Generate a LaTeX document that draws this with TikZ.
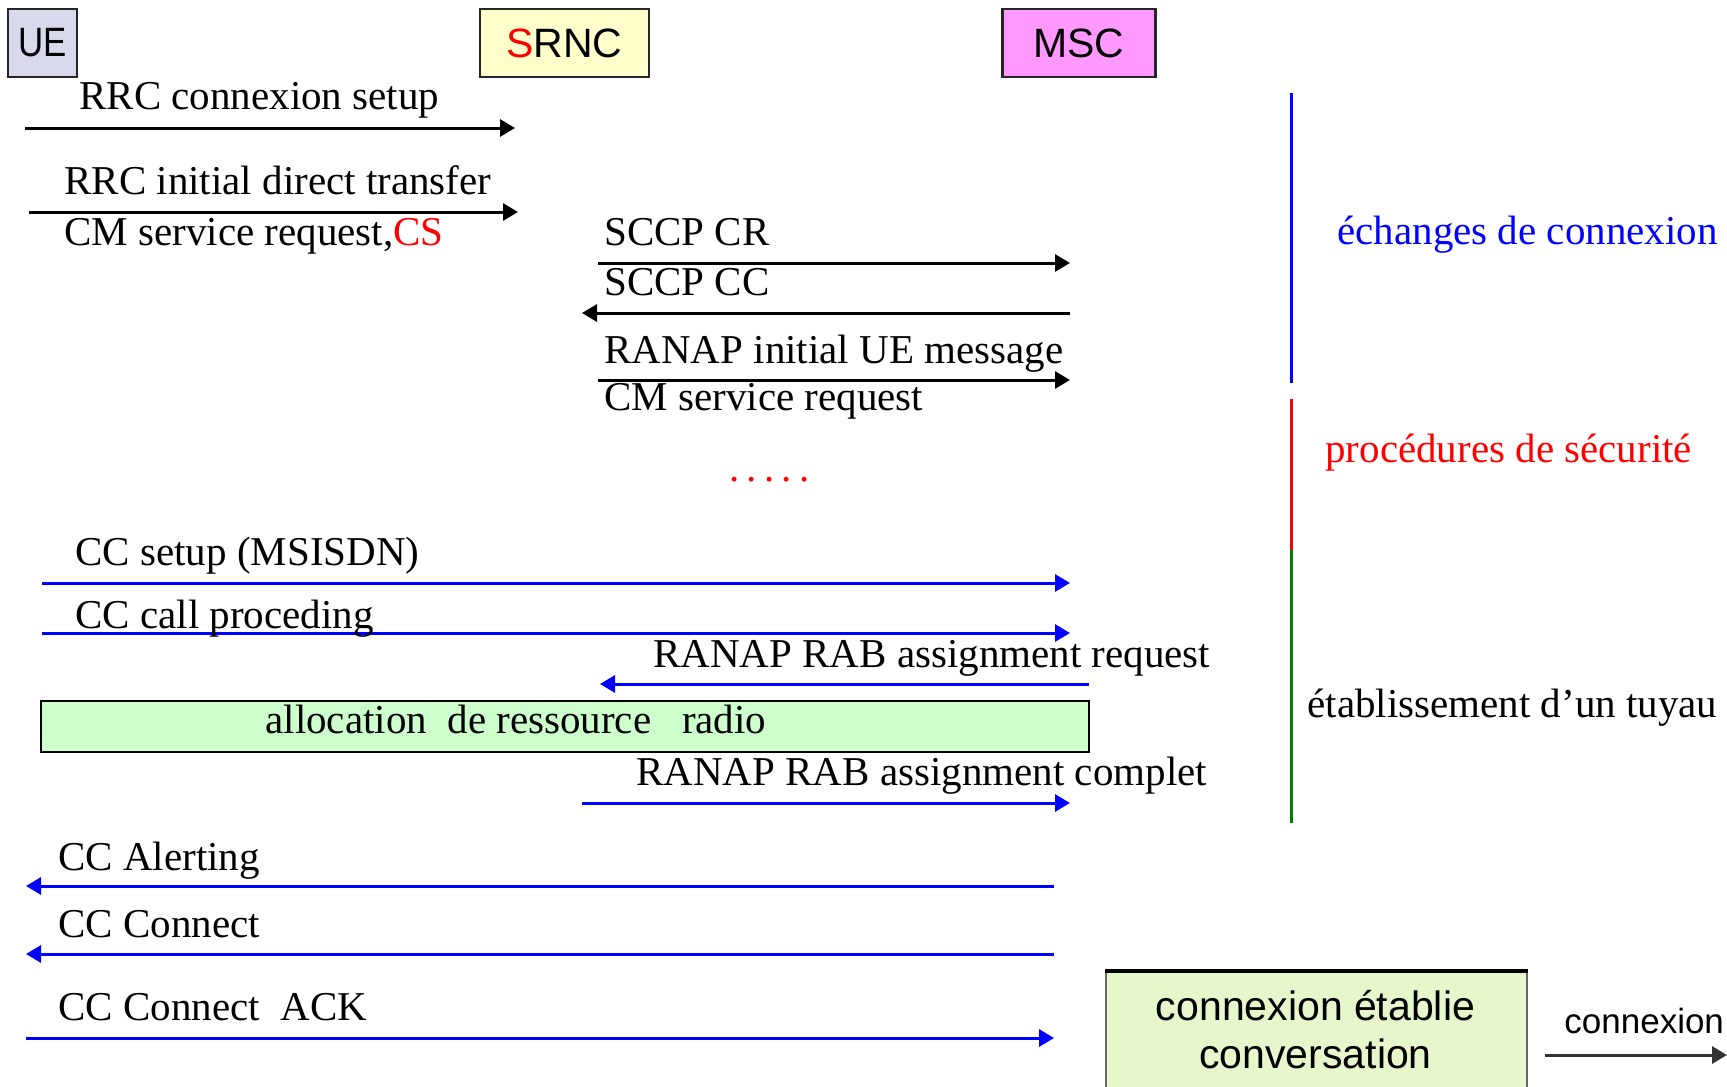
\documentclass[tikz,border=0pt]{standalone}
\usepackage{fontspec}
\setmainfont{Liberation Serif}
\setsansfont{Liberation Sans}
\usetikzlibrary{arrows.meta}

\definecolor{uefill}{RGB}{217,217,238}
\definecolor{srncfill}{RGB}{255,255,204}
\definecolor{mscfill}{RGB}{255,153,255}
\definecolor{allocfill}{RGB}{204,255,204}
\definecolor{convfill}{RGB}{230,247,204}
\definecolor{msgblue}{RGB}{0,0,255}
\definecolor{pipegreen}{RGB}{0,128,0}
\definecolor{secred}{RGB}{255,0,0}

\begin{document}
\begin{tikzpicture}[x=0.5pt,y=-0.5pt,
  lbl/.style={anchor=base west, inner sep=0pt, font=\fontsize{20.5}{24}\selectfont},
  sanslbl/.style={anchor=base, inner sep=0pt, font=\sffamily\fontsize{20.5}{24}\selectfont},
  hdr/.style={draw=black!85, line width=1.2pt, inner sep=0pt,
              minimum height=34pt, font=\sffamily\fontsize{20.5}{24}\selectfont},
  msg/.style={line width=1.5pt, -{Triangle[length=7.5pt,width=8.5pt]}},
  bmsg/.style={msg, color=msgblue},
  phase/.style={line width=1.5pt}
]
\clip (0,0) rectangle (1727,1086);
\fill[white] (0,0) rectangle (1727,1086);

% entities
\node[hdr, fill=uefill, minimum width=34.5pt] (ue) at (42.5,43) {\scalebox{0.85}[1]{UE}};
\node[hdr, fill=srncfill, minimum width=84.5pt] (srnc) at (564.5,43) {\textcolor{secred}{S}RNC};
\node[hdr, fill=mscfill, minimum width=76.5pt] (msc) at (1079,43) {MSC};

% connection set-up
\coordinate (a1s) at (25,128);   \coordinate (a1e) at (515,128);
\coordinate (a2s) at (29,212);   \coordinate (a2e) at (518,212);
\coordinate (a3s) at (598,263);  \coordinate (a3e) at (1070,263);
\coordinate (a4s) at (1070,313); \coordinate (a4e) at (582,313);
\coordinate (a5s) at (598,380);  \coordinate (a5e) at (1070,380);
\draw[msg] (a1s) -- (a1e);
\draw[msg] (a2s) -- (a2e);
\draw[msg] (a3s) -- (a3e);
\draw[msg] (a4s) -- (a4e);
\draw[msg] (a5s) -- (a5e);

\node[lbl] (t1) at (79,110) {RRC connexion setup};
\node[lbl] (t2) at (64,194) {RRC initial direct transfer};
\node[lbl] (t2b) at (64,245) {CM service request,\textcolor{secred}{CS}};
\node[lbl] (t3) at (604,245) {SCCP CR};
\node[lbl] (t4) at (604,295) {SCCP CC};
\node[lbl] (t5) at (604,363) {RANAP initial UE message};
\node[lbl] (t5b) at (604,410) {CM service request};
\node[lbl, text=secred] (dots) at (729,481)
  {.\kern3.6pt.\kern3.6pt.\kern3.6pt.\kern3.6pt.};

% call set-up
\coordinate (a6s) at (42,583);   \coordinate (a6e) at (1070,583);
\coordinate (a7s) at (42,633);   \coordinate (a7e) at (1070,633);
\coordinate (a8s) at (1089,684); \coordinate (a8e) at (600,684);
\coordinate (a9s) at (582,803);  \coordinate (a9e) at (1070,803);
\draw[bmsg] (a6s) -- (a6e);
\draw[bmsg] (a7s) -- (a7e);
\draw[bmsg] (a8s) -- (a8e);
\draw[bmsg] (a9s) -- (a9e);

\node[lbl] (t6) at (75,565) {CC setup (MSISDN)};
\node[lbl] (t7) at (75,628) {CC call proceding};
\node[lbl] (t8) at (653,667) {RANAP RAB assignment request};
\node[draw=black, line width=1.1pt, fill=allocfill, inner sep=0pt,
      minimum width=524pt, minimum height=25.5pt] (alloc) at (565,726.5) {};
\node[lbl] (alloctxt) at (265,733) {allocation\ \ de ressource\ \ \ radio};
\node[lbl] (t9) at (636,785) {RANAP RAB assignment complet};

% alerting and connect
\coordinate (a10s) at (1054,886);  \coordinate (a10e) at (26,886);
\coordinate (a11s) at (1054,954);  \coordinate (a11e) at (26,954);
\coordinate (a12s) at (26,1038);   \coordinate (a12e) at (1054,1038);
\draw[bmsg] (a10s) -- (a10e);
\draw[bmsg] (a11s) -- (a11e);
\draw[bmsg] (a12s) -- (a12e);
\node[lbl] (t10) at (58,870) {CC Alerting};
\node[lbl] (t11) at (58,937) {CC Connect};
\node[lbl] (t12) at (58,1020) {CC Connect\ \ ACK};

% established connection
\node[draw=black!60, line width=0.8pt, fill=convfill, inner sep=0pt, anchor=north west,
      minimum width=210.5pt, minimum height=70pt] (conv) at (1105,971) {};
\draw[line width=1.7pt] (conv.north west) -- (conv.north east);
\node[sanslbl] (conv1) at (1315.5,1020) {connexion établie};
\node[sanslbl] (conv2) at (1315.5,1068) {conversation};
\node[anchor=base west, inner sep=0pt, font=\sffamily\fontsize{17.5}{20}\selectfont]
  (conntxt) at (1564,1033) {connexion};
\coordinate (a13s) at (1545,1055); \coordinate (a13e) at (1727,1055);
\draw[msg, color=black!80] (a13s) -- (a13e);

% phases
\coordinate (p0) at (1291,93);
\coordinate (p1) at (1291,383);
\coordinate (p2) at (1291,399);
\coordinate (p3) at (1291,550);
\coordinate (p4) at (1291,823);
\draw[phase, msgblue] (p0) -- (p1);
\draw[phase, secred] (p2) -- (p3);
\draw[phase, pipegreen] (p3) -- (p4);
\node[lbl, text=msgblue] (ph1) at (1337,244) {échanges de connexion};
\node[lbl, text=secred] (ph2) at (1325,462) {procédures de sécurité};
\node[lbl] (ph3) at (1307,717) {établissement d’un tuyau};
\end{tikzpicture}
\end{document}
